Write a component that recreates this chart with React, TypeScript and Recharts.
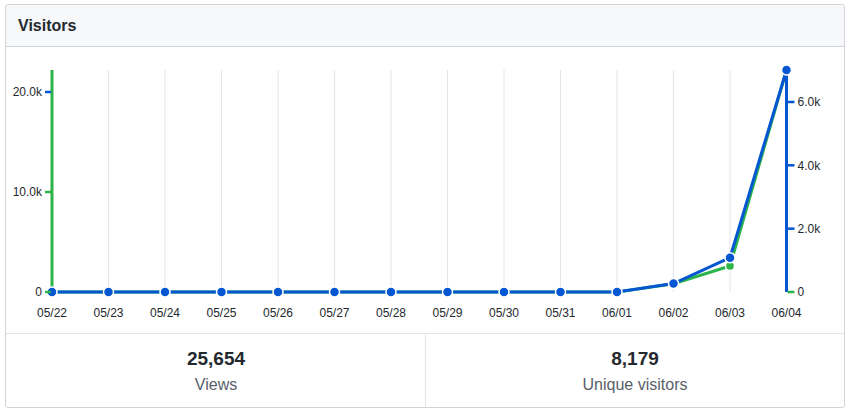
import React from "react";
import { LineChart, Line, XAxis, YAxis, CartesianGrid } from "recharts";

const dates = ["05/22", "05/23", "05/24", "05/25", "05/26", "05/27", "05/28", "05/29", "05/30", "05/31", "06/01", "06/02", "06/03", "06/04"];
const views = [4, 2, 3, 1, 2, 3, 2, 1, 2, 2, 2, 830, 2600, 22200];
const uniques = [2, 1, 1, 1, 1, 1, 1, 1, 1, 1, 1, 265, 1085, 7010];
const viewTicks = [0, 10000, 20000];
const uniqueTicks = [0, 2000, 4000, 6000];
const totalViews = "25,654";
const totalUniques = "8,179";

const data = dates.map((d, i) => ({ date: d, views: views[i], uniques: uniques[i] }));

const GREEN = "#2cb34a";
const BLUE = "#0457d0";
const FONT = "'Liberation Sans', Arial, Helvetica, sans-serif";

const fmt = (v: number) => (v === 0 ? "0" : (v / 1000).toFixed(1) + "k");

const LeftTick = (props: any) => {
  const { x, y, payload, index } = props;
  const color = index === viewTicks.length - 1 ? BLUE : GREEN;
  return (
    <g>
      <line x1={x - 7} x2={x - 1} y1={y} y2={y} stroke={color} strokeWidth={2.5} />
      <text x={x - 10} y={y} dy="0.36em" textAnchor="end" fontSize={12} fill="#24292e" fontFamily={FONT}>
        {fmt(payload.value)}
      </text>
    </g>
  );
};

const RightTick = (props: any) => {
  const { x, y, payload, index } = props;
  const color = index === 0 ? GREEN : BLUE;
  return (
    <g>
      <line x1={x + 1} x2={x + 8} y1={y} y2={y} stroke={color} strokeWidth={2.5} />
      <text x={x + 11} y={y} dy="0.36em" textAnchor="start" fontSize={12} fill="#24292e" fontFamily={FONT}>
        {fmt(payload.value)}
      </text>
    </g>
  );
};

const XTick = (props: any) => {
  const { x, payload } = props;
  return (
    <text x={x} y={317} textAnchor="middle" fontSize={12} fill="#24292e" fontFamily={FONT}>
      {payload.value}
    </text>
  );
};

export default function App() {
  return (
    <div style={{ position: "absolute", left: 0, top: 0, width: 848, height: 412, background: "#fff", fontFamily: FONT }}>
      <div
        style={{
          position: "absolute",
          left: 5,
          top: 4,
          width: 838,
          height: 402,
          border: "1px solid #d1d5da",
          borderRadius: 3,
          overflow: "hidden",
        }}
      >
        <div
          style={{
            position: "absolute",
            left: 0,
            top: 0,
            width: 838,
            height: 41,
            background: "#f6f8fa",
            borderBottom: "1px solid #d1d5da",
          }}
        >
          <div style={{ position: "absolute", left: 12, top: 12, fontSize: 16, fontWeight: 700, color: "#24292e", lineHeight: "18px" }}>
            Visitors
          </div>
        </div>
        <div style={{ position: "absolute", left: 0, top: 328, width: 838, height: 0, borderTop: "1px solid #e1e4e8" }} />
        <div style={{ position: "absolute", left: 419, top: 329, width: 0, height: 74, borderLeft: "1px solid #e1e4e8" }} />
        <div style={{ position: "absolute", left: 0, top: 343, width: 420, textAlign: "center" }}>
          <div style={{ fontSize: 19, fontWeight: 700, color: "#24292e", lineHeight: "22px" }}>{totalViews}</div>
          <div style={{ fontSize: 16, color: "#586069", lineHeight: "20px", marginTop: 5 }}>Views</div>
        </div>
        <div style={{ position: "absolute", left: 420, top: 343, width: 418, textAlign: "center" }}>
          <div style={{ fontSize: 19, fontWeight: 700, color: "#24292e", lineHeight: "22px" }}>{totalUniques}</div>
          <div style={{ fontSize: 16, color: "#586069", lineHeight: "20px", marginTop: 5 }}>Unique visitors</div>
        </div>
      </div>
      <div style={{ position: "absolute", left: 0, top: 0 }}>
        <LineChart
          width={848}
          height={330}
          data={data}
          margin={{ top: 70, right: 0, bottom: 0, left: 0 }}
        >
          <CartesianGrid vertical={true} horizontal={false} stroke="#e1e4e8" strokeWidth={1} />
          <XAxis
            dataKey="date"
            axisLine={false}
            tickLine={false}
            tick={<XTick />}
            height={38}
            interval={0}
          />
          <YAxis
            yAxisId="v"
            orientation="left"
            width={52}
            domain={[0, 22200]}
            ticks={viewTicks}
            axisLine={{ stroke: GREEN, strokeWidth: 3 }}
            tickLine={false}
            tickSize={0}
            tickMargin={0}
            tick={<LeftTick />}
            interval={0}
          />
          <YAxis
            yAxisId="u"
            orientation="right"
            width={61.5}
            domain={[0, 7010]}
            ticks={uniqueTicks}
            axisLine={{ stroke: BLUE, strokeWidth: 3 }}
            tickLine={false}
            tickSize={0}
            tickMargin={0}
            tick={<RightTick />}
            interval={0}
          />
          <Line
            yAxisId="v"
            type="linear"
            dataKey="views"
            stroke={GREEN}
            strokeWidth={3}
            dot={{ r: 4.5, fill: GREEN, stroke: "#fff", strokeWidth: 1.5 }}
            isAnimationActive={false}
          />
          <Line
            yAxisId="u"
            type="linear"
            dataKey="uniques"
            stroke={BLUE}
            strokeWidth={3}
            dot={{ r: 5, fill: BLUE, stroke: "#fff", strokeWidth: 1.5 }}
            isAnimationActive={false}
          />
        </LineChart>
      </div>
    </div>
  );
}
